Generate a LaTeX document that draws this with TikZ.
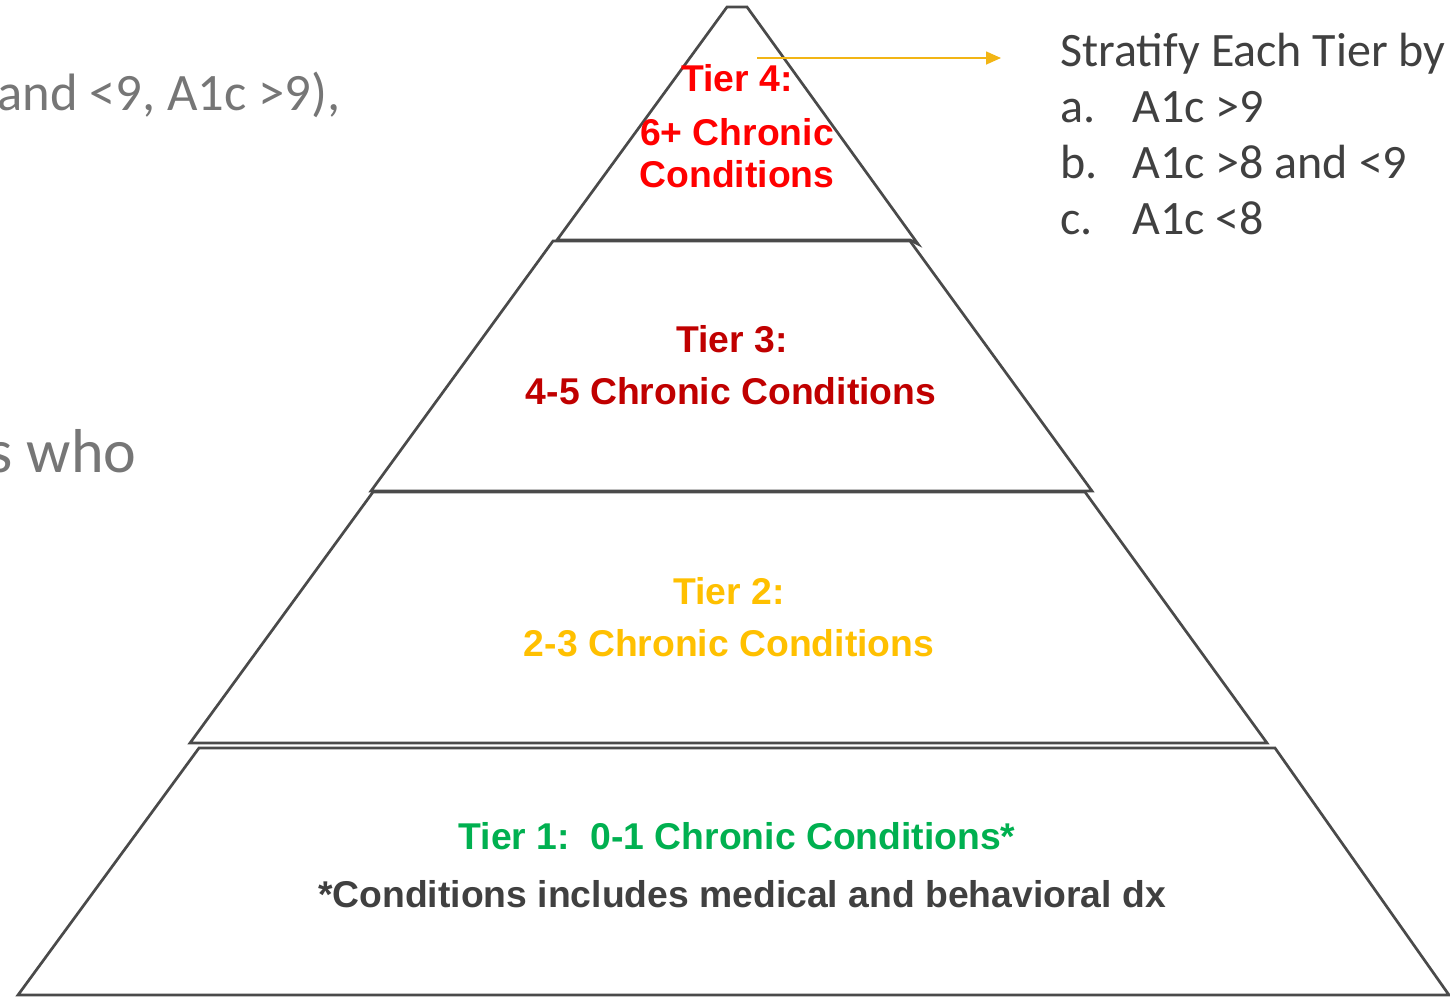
\documentclass[tikz,border=0pt]{standalone}
\usepackage{fontspec}
\setmainfont{Liberation Sans}
\newfontfamily\calib{Carlito}
\usetikzlibrary{arrows.meta}
\definecolor{outl}{HTML}{4A4A4A}
\definecolor{grayt}{HTML}{767676}
\definecolor{darkt}{HTML}{404040}
\definecolor{tfour}{HTML}{FF0000}
\definecolor{tthree}{HTML}{C00000}
\definecolor{ttwo}{HTML}{FFC000}
\definecolor{tone}{HTML}{00B050}
\definecolor{arrowc}{HTML}{F2B515}
\tikzset{
  tier/.style={draw=outl, line width=1.35pt, line join=miter, fill=white},
  lbl/.style={inner sep=0pt, anchor=base, font=\bfseries\fontsize{18.65}{22}\selectfont},
  rtext/.style={inner sep=0pt, anchor=base west, text=darkt, font=\calib\fontsize{24}{28}\selectfont},
}
\begin{document}
\begin{tikzpicture}[x=0.5pt,y=-0.5pt]
\useasboundingbox (0,0) rectangle (1450,997);
\clip (0,0) rectangle (1450,997);
% left background text (clipped)
\node[inner sep=0pt, anchor=base east, text=grayt, font=\calib\fontsize{26.3}{30}\selectfont] (lt1) at (341,110) {and <9, A1c >9),};
\node[inner sep=0pt, anchor=base east, text=grayt, font=\calib\fontsize{31}{36}\selectfont] (lt2) at (137,472) {s who};
% pyramid tiers
\draw[tier] (18,995) -- (1449,995) -- (1275,748) -- (199,748) -- cycle;
\draw[tier] (190,743) -- (1267,743) -- (1085,492) -- (373,492) -- cycle;
\draw[tier] (371,491) -- (1092,491) -- (910,241) -- (553,241) -- cycle;
\draw[tier] (557,240) -- (910,240) -- (918,244) -- (747,7) -- (727,7) -- cycle;
% tier labels
\node[lbl, text=tfour] (t4a) at (737,91) {Tier 4:};
\node[lbl, text=tfour] (t4b) at (737,145) {6+ Chronic};
\node[lbl, text=tfour] (t4c) at (737,187) {Conditions};
\node[lbl, text=tthree] (t3a) at (732,352) {Tier 3:};
\node[lbl, text=tthree] (t3b) at (731,404) {4-5 Chronic Conditions};
\node[lbl, text=ttwo] (t2a) at (729,604) {Tier 2:};
\node[lbl, text=ttwo] (t2b) at (729,656) {2-3 Chronic Conditions};
\node[lbl, text=tone] (t1a) at (737,849) {Tier 1:\ \ 0-1 Chronic Conditions*};
\node[lbl, text=darkt] (t1b) at (742,907) {*Conditions includes medical and behavioral dx};
% arrow
\coordinate (arrS) at (757,58);
\coordinate (arrE) at (1001,58);
\draw[arrowc, line width=0.8pt, -{Triangle[length=7.5pt,width=6.5pt]}] (arrS) -- (arrE);
% right text
\node[rtext] (s0) at (1060,66) {Stratify Each Tier by};
\node[rtext] (s1) at (1060,122) {a.};
\node[rtext] (s1b) at (1132,122) {A1c >9};
\node[rtext] (s2) at (1060,178) {b.};
\node[rtext] (s2b) at (1132,178) {A1c >8 and <9};
\node[rtext] (s3) at (1060,234) {c.};
\node[rtext] (s3b) at (1132,234) {A1c <8};
\end{tikzpicture}
\end{document}
